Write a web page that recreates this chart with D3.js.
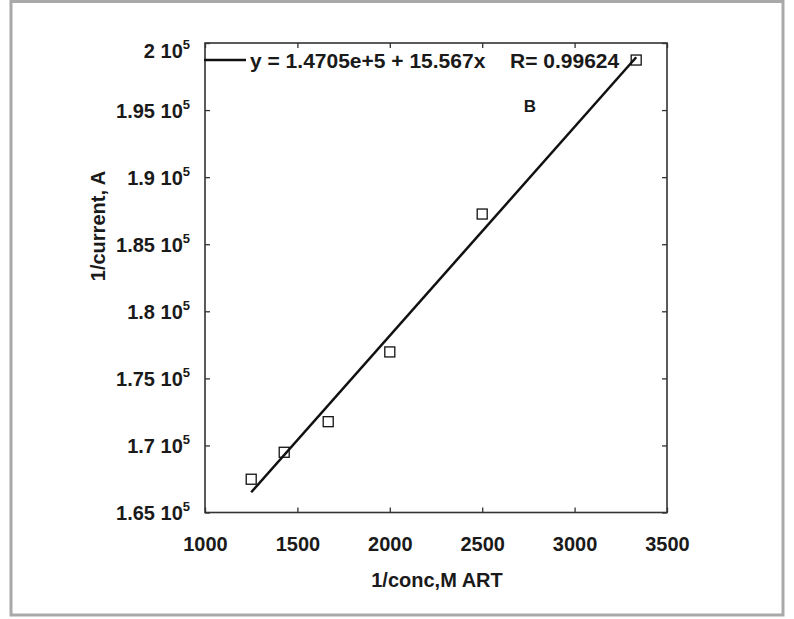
<!DOCTYPE html>
<html>
<head>
<meta charset="utf-8">
<script src="https://cdn.jsdelivr.net/npm/d3@7"></script>
<style>
  html, body { margin: 0; padding: 0; background: #fff; }
  svg { display: block; }
  text { font-family: "Liberation Sans", Arial, sans-serif; font-weight: bold; fill: #1a1a1a; }
</style>
</head>
<body>
<svg id="chart" width="794" height="619"></svg>
<script>
// Axis ticks
const xTicks = [1000, 1500, 2000, 2500, 3000, 3500];
const yTicks = [165000, 170000, 175000, 180000, 185000, 190000, 195000, 200000];

// Measured points: 1/concentration (M^-1) vs 1/current (A^-1)
const concInv = [1250, 1428.6, 1666.7, 2000, 2500, 3333.3];
const invCurrent = [167480, 169490, 171770, 176970, 187250, 198730];

// Linear fit
const fitIntercept = 1.4705e5;
const fitSlope = 15.567;
const fitR = 0.99624;
const fitRange = [1250, 3333.3];

const svg = d3.select("#chart");
const box = { left: 205, right: 667, top: 43, bottom: 512.5 };

const x = d3.scaleLinear().domain([1000, 3500]).range([box.left, box.right]);
const y = d3.scaleLinear().domain([165000, 200000]).range([box.bottom, box.top]);

// Outer frame
svg.append("rect")
  .attr("x", 11).attr("y", 1.5)
  .attr("width", 772).attr("height", 613.5)
  .attr("fill", "none")
  .attr("stroke", "#a9a9a9")
  .attr("stroke-width", 3);

// Axes with inward ticks on all four sides
function styleAxis(g) {
  g.select(".domain").remove();
  g.selectAll(".tick line").attr("stroke", "#333").attr("stroke-width", 1.3);
}

svg.append("g")
  .attr("transform", `translate(0,${box.bottom})`)
  .call(d3.axisBottom(x).tickValues(xTicks).tickFormat(d3.format("d"))
    .tickSizeInner(-5).tickSizeOuter(0).tickPadding(24))
  .call(styleAxis)
  .call(g => g.selectAll(".tick text")
    .attr("font-size", 20)
    .attr("font-family", null)
    .attr("fill", "#1a1a1a"));

svg.append("g")
  .attr("transform", `translate(0,${box.top})`)
  .call(d3.axisTop(x).tickValues(xTicks).tickSizeInner(-5).tickSizeOuter(0).tickFormat(""))
  .call(styleAxis);

svg.append("g")
  .attr("transform", `translate(${box.right},0)`)
  .call(d3.axisRight(y).tickValues(yTicks).tickSizeInner(-5).tickSizeOuter(0).tickFormat(""))
  .call(styleAxis);

const yAxis = svg.append("g")
  .attr("transform", `translate(${box.left},0)`)
  .call(d3.axisLeft(y).tickValues(yTicks).tickSizeInner(-5).tickSizeOuter(0).tickFormat(""))
  .call(styleAxis);

// Y tick labels in "m 10^5" form
const mant = d3.format("~g");
yAxis.selectAll(".tick").each(function (v) {
  const ty = y(v);
  const dy = Math.max(7, box.top + 14 - ty);
  const t = d3.select(this).append("text")
    .attr("x", -15).attr("y", dy)
    .attr("text-anchor", "end")
    .attr("font-size", 20);
  t.append("tspan").text(mant(v / 1e5) + " 10");
  t.append("tspan").attr("font-size", 13).attr("dy", -9).text("5");
});

// Plot box
svg.append("rect")
  .attr("x", box.left).attr("y", box.top)
  .attr("width", box.right - box.left).attr("height", box.bottom - box.top)
  .attr("fill", "none")
  .attr("stroke", "#333")
  .attr("stroke-width", 1.6);

// Fit line
svg.append("line")
  .attr("x1", x(fitRange[0])).attr("y1", y(fitIntercept + fitSlope * fitRange[0]))
  .attr("x2", x(fitRange[1])).attr("y2", y(fitIntercept + fitSlope * fitRange[1]))
  .attr("stroke", "#111")
  .attr("stroke-width", 2.5);

// Data markers (open squares)
const pts = concInv.map((c, i) => ({ c, v: invCurrent[i] }));
const sq = 10;
svg.append("g").selectAll("rect")
  .data(pts)
  .join("rect")
  .attr("x", d => x(d.c) - sq / 2)
  .attr("y", d => y(d.v) - sq / 2)
  .attr("width", sq).attr("height", sq)
  .attr("fill", "none")
  .attr("stroke", "#111")
  .attr("stroke-width", 1.3);

// Legend for the fit
const legY = 60;
svg.append("line")
  .attr("x1", box.left - 1).attr("x2", box.left + 41)
  .attr("y1", legY).attr("y2", legY)
  .attr("stroke", "#111").attr("stroke-width", 2.5);
svg.append("text")
  .attr("x", 250).attr("y", legY + 8)
  .attr("font-size", 21)
  .text(`y = ${d3.format(".4e")(fitIntercept)} + ${fitSlope}x`);
svg.append("text")
  .attr("x", 510).attr("y", legY + 8)
  .attr("font-size", 21)
  .text(`R= ${fitR}`);

// Panel letter
svg.append("text")
  .attr("x", 530).attr("y", 112)
  .attr("text-anchor", "middle")
  .attr("font-size", 17)
  .text("B");

// Axis titles
svg.append("text")
  .attr("x", 437).attr("y", 587)
  .attr("text-anchor", "middle")
  .attr("font-size", 20)
  .text("1/conc,M ART");

svg.append("text")
  .attr("transform", "translate(105,226) rotate(-90)")
  .attr("text-anchor", "middle")
  .attr("font-size", 20)
  .text("1/current, A");
</script>
</body>
</html>
